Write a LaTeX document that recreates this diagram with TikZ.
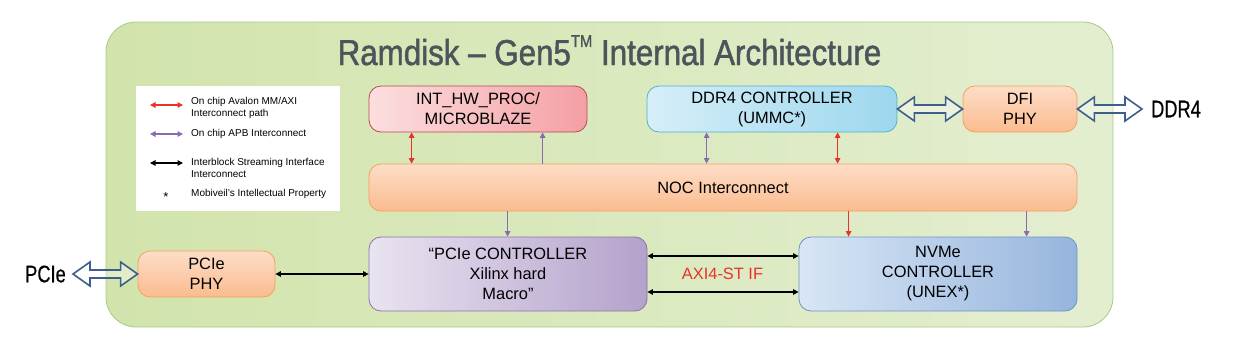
\documentclass[tikz,border=0pt]{standalone}
\usepackage{fontspec}
\setmainfont{Liberation Sans}
\newfontfamily\titlefont[FakeStretch=0.87,FakeBold=1.3]{Liberation Sans}
\newfontfamily\portfont[FakeStretch=0.76,FakeBold=0.5]{Liberation Sans}
\usepackage{xcolor}
\definecolor{cChipL}{HTML}{D2E4AC}
\definecolor{cChipR}{HTML}{E3EED0}
\definecolor{cChipD}{HTML}{A3CB84}
\definecolor{cTitle}{HTML}{4B555A}
\definecolor{cProcL}{HTML}{FCDFDF}
\definecolor{cProcR}{HTML}{F49FA4}
\definecolor{cProcD}{HTML}{B8494F}
\definecolor{cDdrL}{HTML}{D6EEF8}
\definecolor{cDdrR}{HTML}{9DD7EE}
\definecolor{cDdrD}{HTML}{4DB4C8}
\definecolor{cPhyT}{HTML}{FDDDC7}
\definecolor{cPhyB}{HTML}{FBBC8F}
\definecolor{cPhyD}{HTML}{F5A05E}
\definecolor{cPcieL}{HTML}{EAE3F1}
\definecolor{cPcieR}{HTML}{B3A2CB}
\definecolor{cPcieD}{HTML}{8A73AE}
\definecolor{cNvmeL}{HTML}{D8E6F5}
\definecolor{cNvmeR}{HTML}{96B5DD}
\definecolor{cNvmeD}{HTML}{6D94C9}
\definecolor{cRed}{HTML}{E8322B}
\definecolor{cApb}{HTML}{8A6BB0}
\definecolor{cHollow}{HTML}{3E5F8A}
\usepackage{tikz}
\usetikzlibrary{arrows.meta,calc}
\tikzset{
  node-box/.style={thick,rounded corners=12pt,inner sep=0pt,
    align=center,font=\fontsize{16.4}{20}\selectfont},
  node-chip/.style={draw=cChipD,thick,rounded corners=30pt,
    left color=cChipL,right color=cChipR},
  node-proc/.style={draw=cProcD,left color=cProcL,right color=cProcR},
  node-ddr/.style={draw=cDdrD,left color=cDdrL,right color=cDdrR},
  node-phy/.style={draw=cPhyD,top color=cPhyT,bottom color=cPhyB},
  node-pcie/.style={draw=cPcieD,left color=cPcieL,right color=cPcieR},
  node-nvme/.style={draw=cNvmeD,left color=cNvmeL,right color=cNvmeR},
  legend-text/.style={anchor=west,align=left,inner sep=0pt,
    font=\fontsize{10}{12.5}\selectfont},
  arrow/.style={line width=1.2pt,>={Triangle[length=5.5pt,width=5.5pt]}},
  arrow-red/.style={arrow,draw=cRed,fill=cRed},
  arrow-apb/.style={arrow,draw=cApb,fill=cApb},
  arrow-stream/.style={arrow,draw=black,fill=black},
  arrow-hollow/.style={draw=cHollow,line width=1.6pt,fill=white,fill opacity=0.35,
    line join=miter},
}
\newcommand{\hollowarrow}[2]{%
  \draw[arrow-hollow] (#1) -- ++(17,-12) -- ++(0,8) -- ($(#2)+(-17,-4)$)
    -- ++(0,-8) -- (#2) -- ++(-17,12) -- ++(0,-8) -- ($(#1)+(17,4)$)
    -- ++(0,8) -- cycle;}

\begin{document}
\begin{tikzpicture}[x=1pt,y=-1pt]
  \useasboundingbox (0,0) rectangle (1243,349);
  \node[node-chip,minimum width=1007pt,minimum height=305pt] (chip) at (609.5,174.5) {};
  \node[anchor=base,text=cTitle,font=\titlefont\fontsize{36}{36}\selectfont] (title) at (609.5,65)
    {Ramdisk – Gen5\raisebox{0.95ex}{\fontsize{17}{17}\selectfont TM} Internal Architecture};

  % legend
  \node[fill=white,minimum width=204pt,minimum height=125pt,inner sep=0pt] (legend) at (238,148.5) {};
  \node[legend-text] (lg-red) at (191,108) {On chip Avalon MM/AXI\\Interconnect path};
  \node[legend-text] (lg-apb) at (191,134) {On chip APB Interconnect};
  \node[legend-text] (lg-stream) at (191,168) {Interblock Streaming Interface\\Interconnect};
  \node[legend-text] (lg-ip) at (191,194) {Mobiveil's Intellectual Property};
  \node[font=\fontsize{13}{13}\selectfont,inner sep=0pt] (lg-star) at (166,197) {*};
  \coordinate (lr1) at (150,105); \coordinate (lr2) at (183,105);
  \coordinate (la1) at (150,134); \coordinate (la2) at (183,134);
  \coordinate (ls1) at (150,163); \coordinate (ls2) at (183,163);
  \draw[arrow-red,<->] (lr1) -- (lr2);
  \draw[arrow-apb,<->] (la1) -- (la2);
  \draw[arrow-stream,<->] (ls1) -- (ls2);

  % blocks
  \node[node-box,node-proc,minimum width=218pt,minimum height=46pt] (proc) at (478,109) {INT\_HW\_PROC/\\MICROBLAZE};
  \node[node-box,node-ddr,minimum width=250pt,minimum height=46pt] (ddr) at (772,109) {DDR4 CONTROLLER\\(UMMC*)};
  \node[node-box,node-phy,minimum width=114pt,minimum height=46pt] (dfi) at (1020,109) {DFI\\PHY};
  \node[node-box,node-phy,minimum width=708pt,minimum height=47pt] (noc) at (723,187.5) {NOC Interconnect};
  \node[node-box,node-pcie,minimum width=278pt,minimum height=74pt] (pctrl) at (508,274) {“PCIe CONTROLLER\\Xilinx hard\\Macro”};
  \node[node-box,node-nvme,minimum width=278pt,minimum height=74pt] (nvme) at (938,274) {NVMe\\CONTROLLER\\(UNEX*)};
  \node[node-box,node-phy,minimum width=137pt,minimum height=46pt] (phy) at (206.5,274) {PCIe\\PHY};
  \node[text=cRed,font=\fontsize{16.4}{20}\selectfont,inner sep=0pt] (axi) at (722.5,274) {AXI4-ST IF};

  % ports
  \node[font=\portfont\fontsize{24}{24}\selectfont,inner sep=0pt] (ddr-port) at (1176,109) {DDR4};
  \node[font=\portfont\fontsize{24}{24}\selectfont,inner sep=0pt] (pcie-port) at (45.5,274) {PCIe};
  \coordinate (ddr-end) at (1142,109);
  \coordinate (pcie-end) at (73,274);
  \hollowarrow{ddr.east}{dfi.west}
  \hollowarrow{dfi.east}{ddr-end}
  \hollowarrow{pcie-end}{phy.west}

  % interconnect
  \path ([xshift=43pt]proc.south west) coordinate (p1) ([xshift=174pt]proc.south west) coordinate (p2);
  \path ([xshift=60pt]ddr.south west) coordinate (d1) ([xshift=191pt]ddr.south west) coordinate (d2);
  \path ([xshift=139pt]noc.south west) coordinate (n1) ([xshift=480pt]noc.south west) coordinate (n2)
    ([xshift=658pt]noc.south west) coordinate (n3);
  \draw[arrow-red,<->] (p1) -- (p1 |- noc.north);
  \draw[arrow-apb,->] (p2 |- noc.north) -- (p2);
  \draw[arrow-apb,<->] (d1) -- (d1 |- noc.north);
  \draw[arrow-red,<->] (d2) -- (d2 |- noc.north);
  \draw[arrow-apb,->] (n1) -- (n1 |- pctrl.north);
  \draw[arrow-red,->] (n2) -- (n2 |- nvme.north);
  \draw[arrow-apb,->] (n3) -- (n3 |- nvme.north);

  % streaming
  \path ([yshift=18pt]pctrl.east) coordinate (s1) ([yshift=-18pt]pctrl.east) coordinate (s2);
  \draw[arrow-stream,<->] (phy.east) -- (pctrl.west);
  \draw[arrow-stream,<->] (s1) -- (s1 -| nvme.west);
  \draw[arrow-stream,<->] (s2) -- (s2 -| nvme.west);
\end{tikzpicture}
\end{document}
